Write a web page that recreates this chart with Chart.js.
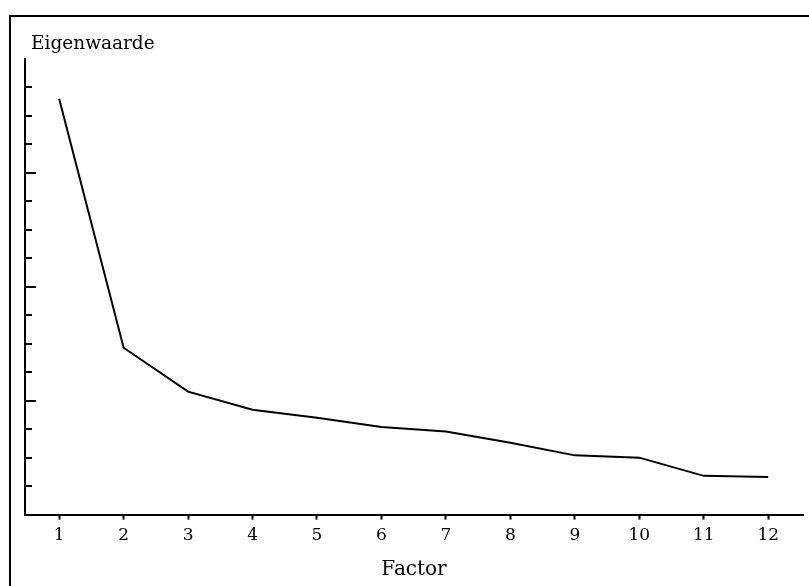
<!DOCTYPE html>
<html>
<head>
<meta charset="utf-8">
<script src="https://cdn.jsdelivr.net/npm/chart.js@4/dist/chart.umd.min.js"></script>
<style>
  html, body { margin: 0; padding: 0; background: #fff; }
  #wrap { width: 809px; height: 586px; position: relative; }
</style>
</head>
<body>
<div id="wrap"><canvas id="myChart"></canvas></div>
<script>
var factors = [1, 2, 3, 4, 5, 6, 7, 8, 9, 10, 11, 12];
var eigenvalues = [3.65, 1.465, 1.08, 0.92, 0.85, 0.77, 0.73, 0.63, 0.52, 0.50, 0.34, 0.33];
var yTicks = [0.25, 0.5, 0.75, 1, 1.25, 1.5, 1.75, 2, 2.25, 2.5, 2.75, 3, 3.25, 3.5, 3.75];
var xTitle = 'Factor';
var yTitle = 'Eigenwaarde';

var serif = '"DejaVu Serif", serif';

// kader, titel en naar binnen gerichte streepjes op de y-as
var frame = {
  id: 'frame',
  beforeDraw: function (chart) {
    var c = chart.ctx;
    c.save();
    c.fillStyle = '#fff';
    c.fillRect(0, 0, chart.width, chart.height);
    c.strokeStyle = '#000';
    c.lineWidth = 2;
    c.beginPath();
    c.moveTo(chart.width, 16);
    c.lineTo(10, 16);
    c.lineTo(10, chart.height);
    c.stroke();
    c.restore();
  },
  afterDraw: function (chart) {
    var c = chart.ctx;
    var y = chart.scales.y;
    var left = chart.chartArea.left;
    c.save();
    c.strokeStyle = '#000';
    c.lineWidth = 2;
    yTicks.forEach(function (v) {
      var py = Math.round(y.getPixelForValue(v));
      var len = (v % 1 === 0) ? 11 : 7;
      c.beginPath();
      c.moveTo(left, py);
      c.lineTo(left + len, py);
      c.stroke();
    });
    c.fillStyle = '#000';
    c.font = '18.5px ' + serif;
    c.textBaseline = 'alphabetic';
    c.fillText(yTitle, 31, 49);
    c.restore();
  }
};

var ctx = document.getElementById('myChart');

new Chart(ctx, {
  type: 'line',
  data: {
    datasets: [{
      data: factors.map(function (f, i) { return { x: f, y: eigenvalues[i] }; }),
      borderColor: '#000',
      borderWidth: 2,
      pointRadius: 0,
      tension: 0,
      fill: false
    }]
  },
  options: {
    responsive: true,
    maintainAspectRatio: false,
    animation: false,
    layout: { padding: { left: 25, right: 6, top: 59, bottom: 4 } },
    plugins: {
      legend: { display: false },
      tooltip: { enabled: false }
    },
    scales: {
      x: {
        type: 'linear',
        min: 0.47,
        max: 12.54,
        afterBuildTicks: function (scale) {
          scale.ticks = factors.map(function (f) { return { value: f }; });
        },
        grid: { drawOnChartArea: false, drawTicks: true, tickLength: 5, tickWidth: 2, tickColor: '#000' },
        border: { display: true, color: '#000', width: 2 },
        ticks: { color: '#000', font: { family: serif, size: 17 }, padding: 6, maxRotation: 0 },
        title: { display: true, text: xTitle, color: '#000', font: { family: serif, size: 20 }, padding: { top: 6, bottom: 0 } }
      },
      y: {
        min: 0,
        max: 4,
        afterFit: function (scale) { scale.width = 0; },
        grid: { display: false },
        border: { display: true, color: '#000', width: 2 },
        ticks: { display: false }
      }
    }
  },
  plugins: [frame]
});
</script>
</body>
</html>
